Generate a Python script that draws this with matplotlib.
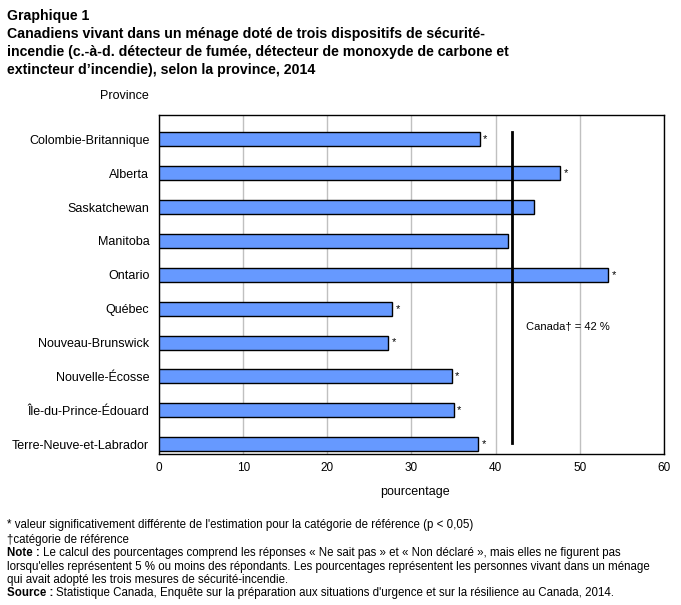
import numpy as np
import matplotlib
matplotlib.use("Agg")
import matplotlib.pyplot as plt

plt.rcParams['font.family'] = ['Liberation Sans', 'DejaVu Sans']

# Données
provinces = ["Colombie-Britannique", "Alberta", "Saskatchewan", "Manitoba", "Ontario",
             "Québec", "Nouveau-Brunswick", "Nouvelle-Écosse", "Île-du-Prince-Édouard",
             "Terre-Neuve-et-Labrador"]
valeurs = [38.1, 47.7, 44.5, 41.5, 53.4, 27.7, 27.2, 34.8, 35.0, 37.9]
signif = [True, True, False, False, True, True, True, True, True, True]
canada = 42
xticks = [0, 10, 20, 30, 40, 50, 60]

fig = plt.figure(figsize=(6.81, 6.05), dpi=100)
ax = fig.add_axes([0.2335, 0.2496, 0.7415, 0.5604])

y = np.arange(len(provinces))
ax.barh(y, valeurs, height=0.41, color="#6699ff", edgecolor="black", linewidth=1.0, zorder=3)
for yi, v, s in zip(y, valeurs, signif):
    if s:
        ax.text(v + 0.4, yi, "*", ha="left", va="center", fontsize=8, zorder=4)

# Ligne de référence Canada
ax.plot([canada, canada], [-0.22, 8.98], color="black", linewidth=2, zorder=4)
ax.text(canada + 1.6, 5.55, "Canada† = 42 %", ha="left", va="center", fontsize=8)

ax.set_xlim(0, 60)
ax.set_ylim(9.29, -0.72)
ax.set_xticks(xticks)
ax.set_yticks(y)
ax.set_yticklabels(provinces, fontsize=9)
ax.tick_params(axis="x", labelsize=8.5, length=0, pad=6)
ax.tick_params(axis="y", length=0, pad=7)
ax.grid(axis="x", color="#c0c0c0", linewidth=1, zorder=0)
for sp in ax.spines.values():
    sp.set_color("black")
    sp.set_linewidth(1)

fig.text(100 / 681, 1 - 96 / 605, "Province", fontsize=9, ha="left", va="center")
fig.text(415 / 681, 1 - 492 / 605, "pourcentage", fontsize=9, ha="center", va="center")

# Titre
titre = ("Graphique 1\n"
         "Canadiens vivant dans un ménage doté de trois dispositifs de sécurité-\n"
         "incendie (c.-à-d. détecteur de fumée, détecteur de monoxyde de carbone et\n"
         "extincteur d’incendie), selon la province, 2014")
fig.text(7 / 681, 1 - 9 / 605, titre, fontsize=10.2, fontweight="bold", ha="left", va="top",
         linespacing=1.37)

# Notes
x0 = 7 / 681
def ligne(ypx, texte, gras=None):
    yy = 1 - ypx / 605
    if gras:
        t = fig.text(x0, yy, gras, fontsize=8.3, fontweight="bold", ha="left", va="center")
        fig.canvas.draw()
        bb = t.get_window_extent()
        fig.text((bb.x1 + 3) / 681, yy, texte, fontsize=8.3, ha="left", va="center")
    else:
        fig.text(x0, yy, texte, fontsize=8.3, ha="left", va="center")

ligne(525, "* valeur significativement différente de l'estimation pour la catégorie de référence (p < 0,05)")
ligne(540, "†catégorie de référence")
ligne(553, "Le calcul des pourcentages comprend les réponses « Ne sait pas » et « Non déclaré », mais elles ne figurent pas", "Note :")
ligne(567, "lorsqu'elles représentent 5 % ou moins des répondants. Les pourcentages représentent les personnes vivant dans un ménage")
ligne(580, "qui avait adopté les trois mesures de sécurité-incendie.")
ligne(593, "Statistique Canada, Enquête sur la préparation aux situations d'urgence et sur la résilience au Canada, 2014.", "Source :")

fig.savefig("out.png", dpi=100)
